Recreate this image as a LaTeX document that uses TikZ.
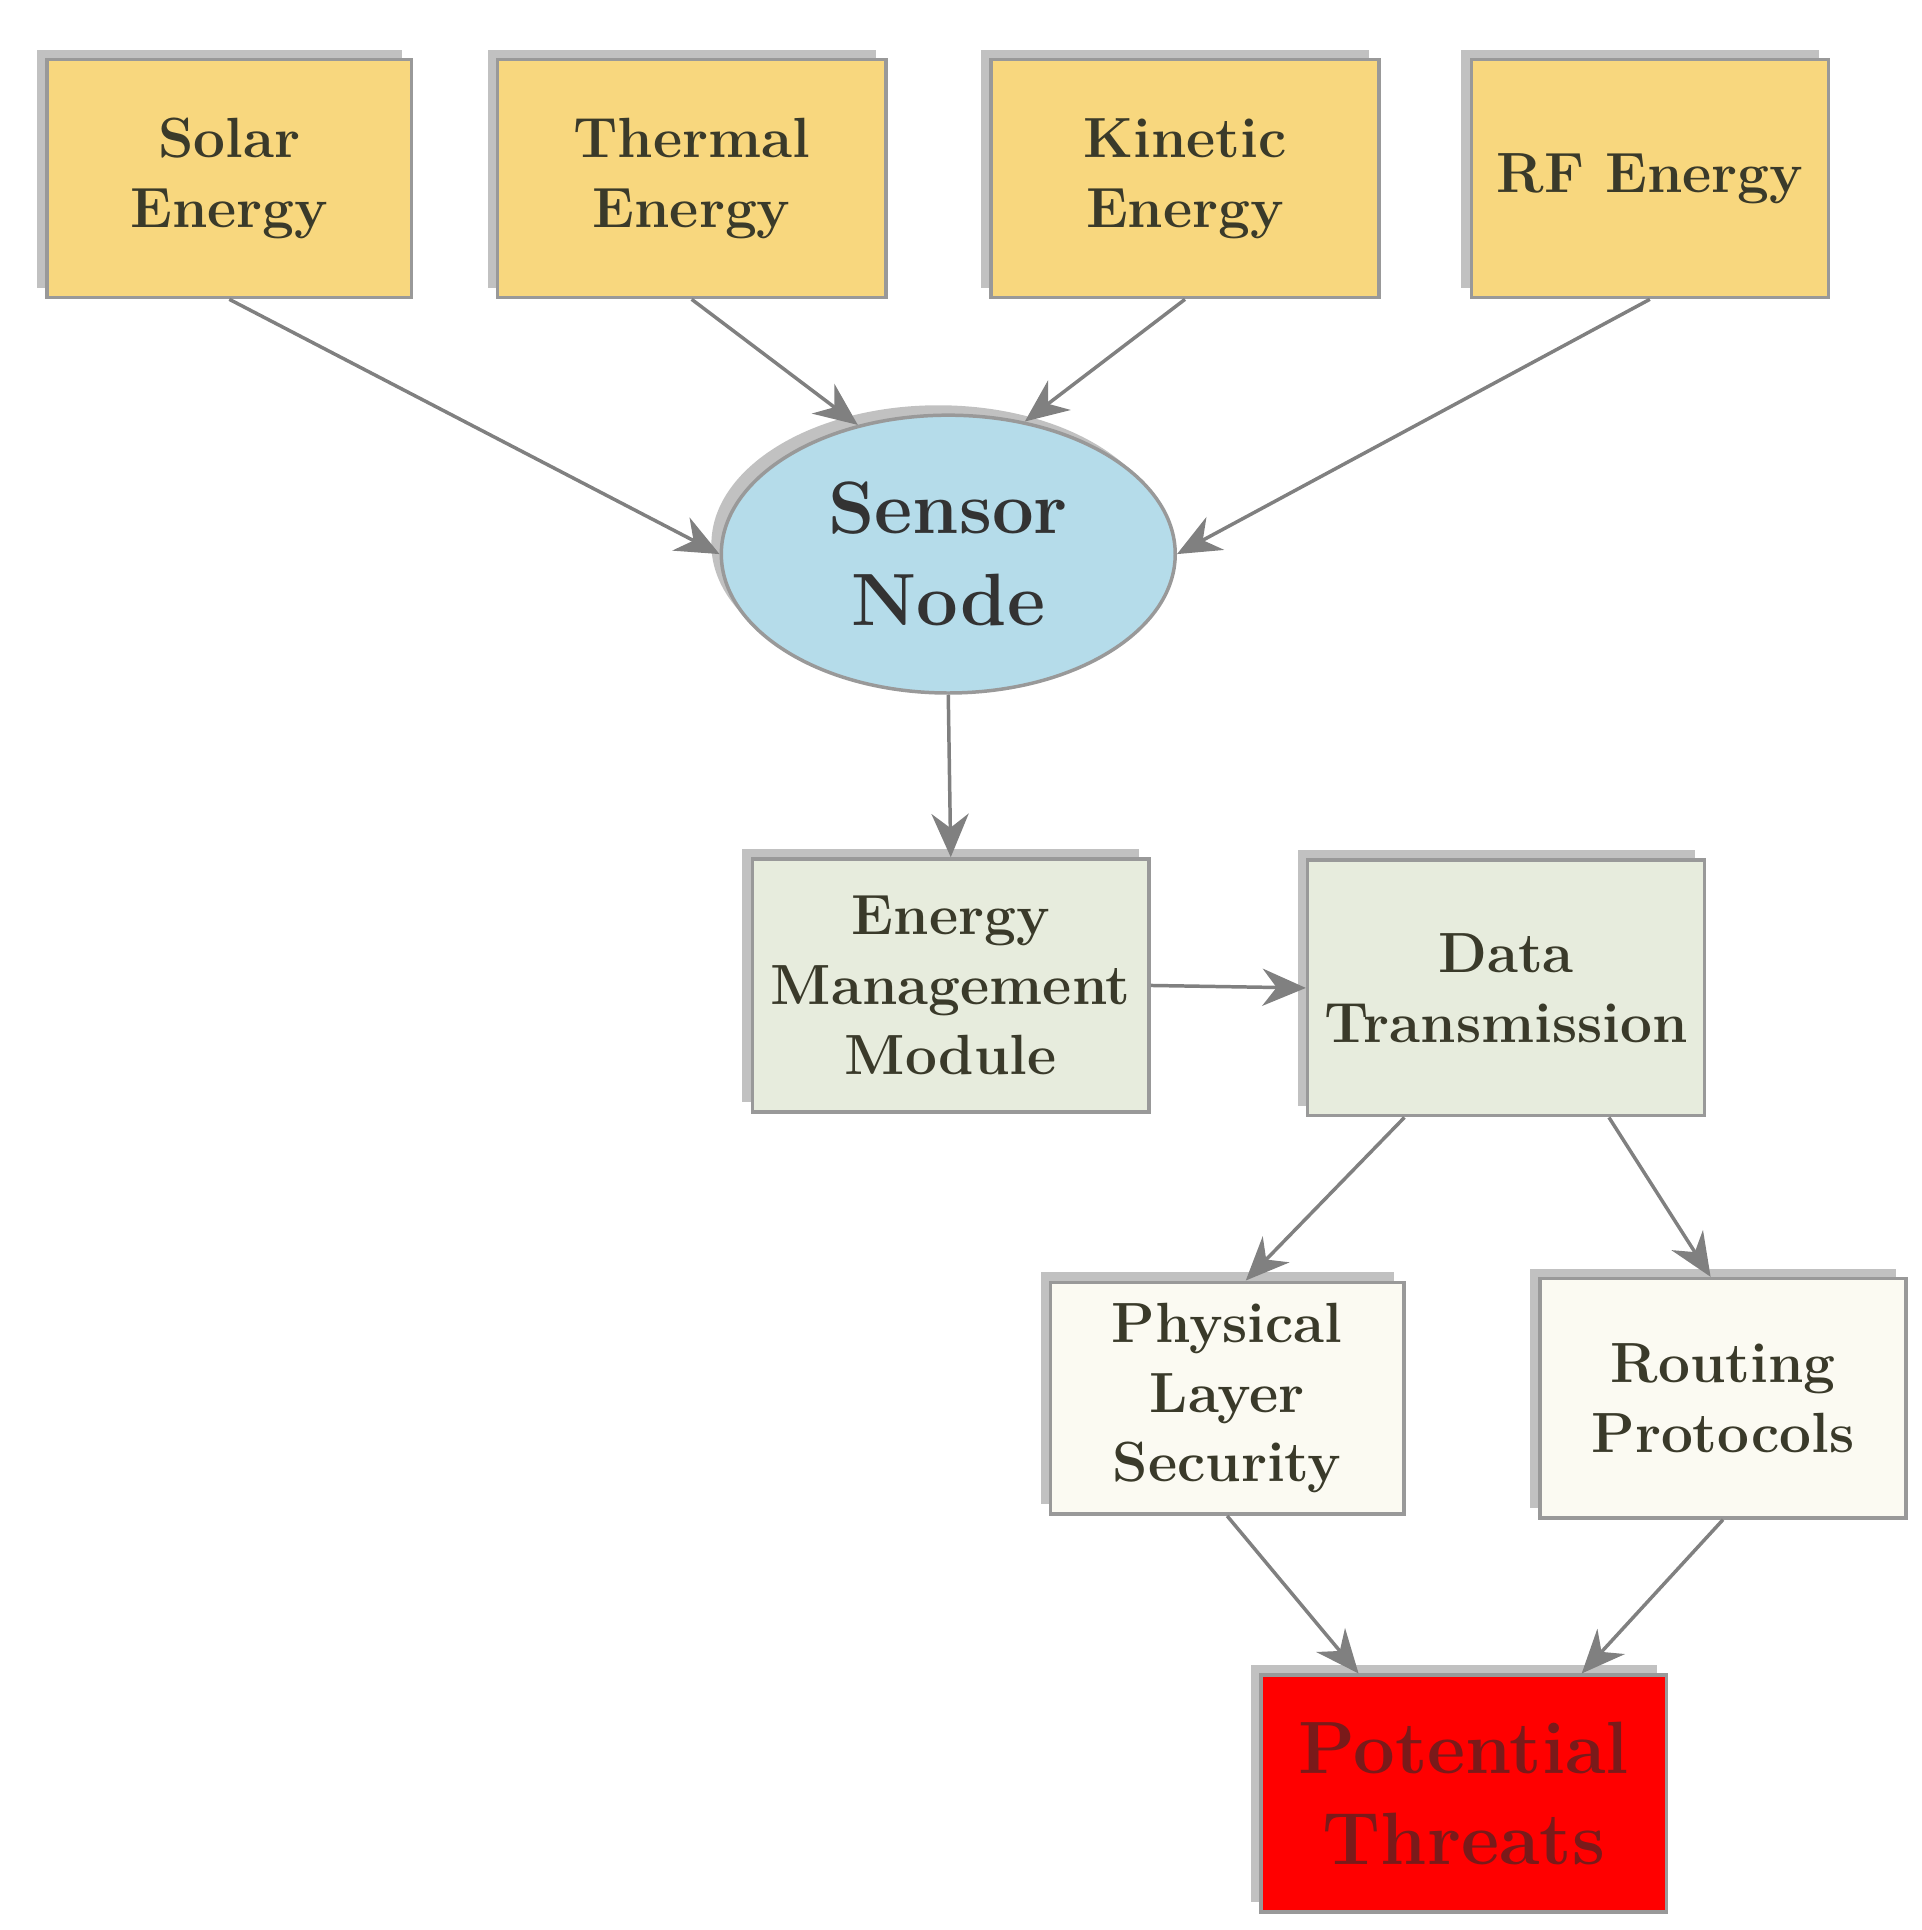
\documentclass[tikz,border=0pt]{standalone}
\usepackage{tikz}
\usetikzlibrary{shapes.geometric,shadows,calc,arrows.meta}

\begin{document}
\begin{tikzpicture}[x=0.01cm,y=-0.01cm,
  box/.style={draw=gray!80,line width=0.8pt,align=center,inner sep=0pt,
    font=\fontsize{13}{16}\selectfont\bfseries,
    drop shadow={shadow xshift=-0.8mm,shadow yshift=0.8mm,fill=gray!60,opacity=0.8}},
  flow/.style={draw=gray,line width=0.8pt,-{Stealth[length=3.5mm,width=3mm]}}]
% Colors define
\definecolor{srcYellow}{HTML}{F8D77E}
\definecolor{nodeBlue}{HTML}{B5DCEA}
\definecolor{modGreen}{HTML}{E7ECDD}
\definecolor{layCream}{HTML}{FBFAF2}
\definecolor{txtDark}{HTML}{3A3A2A}
\definecolor{threatRed}{HTML}{7A1A1A}

\useasboundingbox (0,0) rectangle (1550,1557);

% Energy sources
\node[box,fill=srcYellow,text=txtDark,minimum width=2.94cm,minimum height=1.92cm] (solar) at (185,144) {Solar\\Energy};
\node[box,fill=srcYellow,text=txtDark,minimum width=3.13cm,minimum height=1.92cm] (thermal) at (558,144) {Thermal\\Energy};
\node[box,fill=srcYellow,text=txtDark,minimum width=3.13cm,minimum height=1.92cm] (kinetic) at (956,144) {Kinetic\\Energy};
\node[box,fill=srcYellow,text=txtDark,minimum width=2.88cm,minimum height=1.92cm] (rf) at (1331,144) {RF Energy};

% Sensor node
\node[box,ellipse,fill=nodeBlue,text=black!80,minimum width=3.66cm,minimum height=2.24cm,
  font=\fontsize{17}{21}\selectfont\bfseries] (sensor) at (765,447) {Sensor\\Node};

% Modules
\node[box,fill=modGreen,text=txtDark,minimum width=3.2cm,minimum height=2.04cm] (energy) at (767,795) {Energy\\Management\\Module};
\node[box,fill=modGreen,text=txtDark,minimum width=3.2cm,minimum height=2.06cm] (data) at (1215,797) {Data\\Transmission};
\node[box,fill=layCream,text=txtDark,minimum width=2.85cm,minimum height=1.87cm] (phys) at (990,1128) {Physical\\Layer\\Security};
\node[box,fill=layCream,text=txtDark,minimum width=2.95cm,minimum height=1.93cm] (routing) at (1390,1128) {Routing\\Protocols};
\node[box,fill=red,text=threatRed,minimum width=3.27cm,minimum height=1.91cm,
  font=\fontsize{17}{21}\selectfont\bfseries] (threats) at (1181,1447) {Potential\\Threats};

% Connectors
\draw[flow] (solar.south) -- (sensor.west);
\draw[flow] (thermal.south) -- (sensor.125);
\draw[flow] (kinetic.south) -- (sensor.60);
\draw[flow] (rf.south) -- (sensor.east);
\draw[flow] (sensor.south) -- (energy.north);
\draw[flow] (energy.east) -- (data.west);
\draw[flow] ($(data.south)+(-82,0)$) -- ($(phys.north)+(15,0)$);
\draw[flow] ($(data.south)+(83,0)$) -- ($(routing.north)+(-10,0)$);
\draw[flow] (phys.south) -- ($(threats.north)+(-85,0)$);
\draw[flow] (routing.south) -- ($(threats.north)+(95,0)$);
\end{tikzpicture}
\end{document}
